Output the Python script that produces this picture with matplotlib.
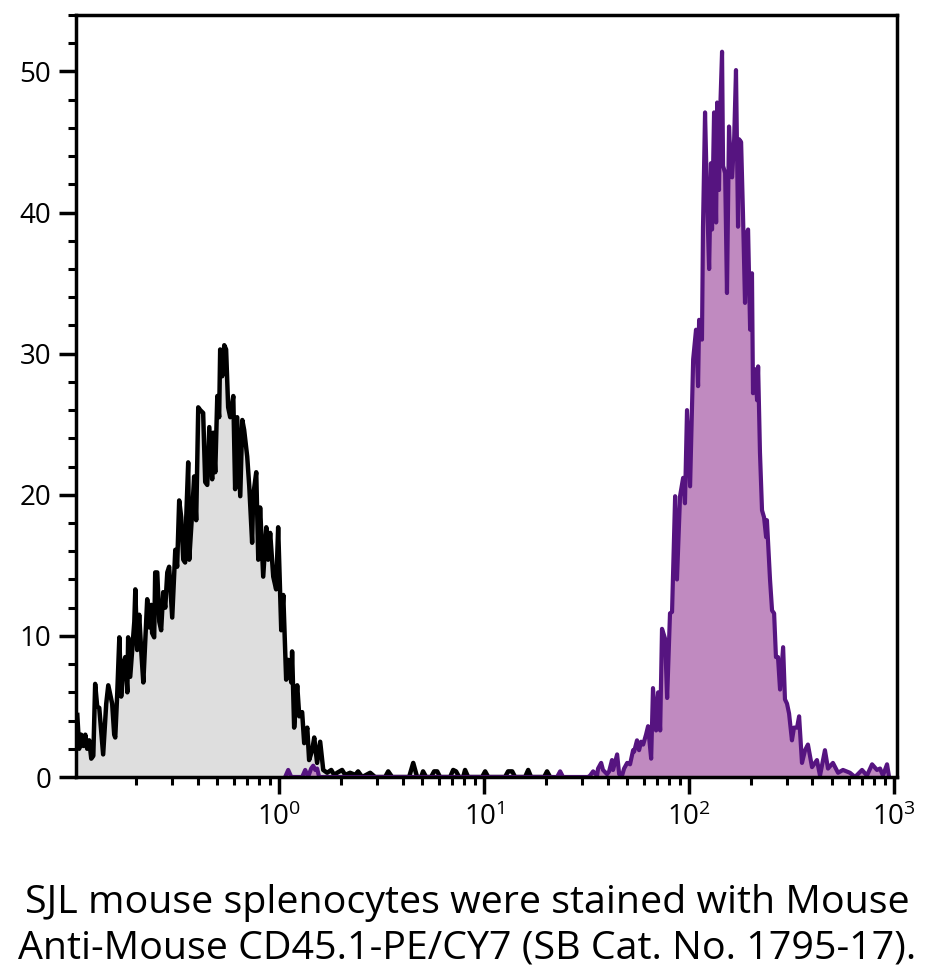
import numpy as np
import matplotlib
matplotlib.use('Agg')
import matplotlib.pyplot as plt
from matplotlib.ticker import MultipleLocator, LogLocator

plt.rcParams['font.family'] = ['Open Sans', 'DejaVu Sans']

# unstained control (black / gray), log10 of intensity and event counts
ctrl_log = np.array([
	-0.985, -0.976, -0.966, -0.956, -0.946, -0.937, -0.927, -0.917, -0.907, -0.898,
	-0.888, -0.878, -0.868, -0.859, -0.844, -0.834, -0.824, -0.815, -0.805, -0.800,
	-0.790, -0.780, -0.771, -0.761, -0.751, -0.741, -0.737, -0.727, -0.717, -0.707,
	-0.702, -0.693, -0.683, -0.673, -0.663, -0.654, -0.644, -0.634, -0.624, -0.620,
	-0.610, -0.605, -0.595, -0.585, -0.576, -0.566, -0.556, -0.546, -0.537, -0.522,
	-0.507, -0.498, -0.488, -0.478, -0.468, -0.459, -0.454, -0.444, -0.439, -0.424,
	-0.415, -0.405, -0.395, -0.385, -0.371, -0.361, -0.351, -0.341, -0.327, -0.322,
	-0.312, -0.302, -0.293, -0.288, -0.278, -0.268, -0.259, -0.249, -0.239, -0.224,
	-0.215, -0.205, -0.190, -0.180, -0.171, -0.156, -0.146, -0.132, -0.127, -0.112,
	-0.102, -0.093, -0.078, -0.063, -0.054, -0.044, -0.029, -0.015, -0.005, 0.010,
	0.020, 0.034, 0.044, 0.059, 0.063, 0.073, 0.088, 0.098, 0.112, 0.122,
	0.137, 0.146, 0.161, 0.171, 0.185, 0.200, 0.215, 0.234, 0.254, 0.268,
	0.283, 0.307, 0.322, 0.346, 0.371, 0.385, 0.405, 0.444, 0.468, 0.517,
	0.532, 0.551, 0.634, 0.654, 0.673, 0.693, 0.702, 0.717, 0.741, 0.756,
	0.771, 0.785, 0.834, 0.849, 0.863, 0.878, 0.898, 0.907, 0.922, 0.990,
	1.005, 1.020, 1.102, 1.117, 1.137, 1.151, 1.200, 1.215, 1.229, 1.293,
	1.307, 1.322])
ctrl_counts = np.array([
	4.4, 2.0, 3.0, 2.2, 3.0, 2.0, 2.6, 1.3, 1.5, 6.6,
	5.0, 4.9, 3.2, 1.6, 5.2, 6.5, 5.8, 5.2, 3.0, 2.8,
	6.0, 9.9, 5.7, 8.0, 8.5, 6.0, 9.9, 7.1, 9.0, 11.0,
	13.3, 9.0, 11.5, 8.9, 6.7, 9.5, 12.6, 10.6, 12.2, 10.2,
	9.9, 14.5, 14.5, 11.0, 10.4, 13.1, 12.0, 14.5, 14.9, 11.3,
	16.1, 14.9, 19.6, 18.4, 15.4, 15.2, 18.2, 22.3, 15.4, 18.9,
	21.3, 18.2, 26.2, 26.0, 25.8, 20.9, 20.7, 24.8, 21.1, 24.4,
	21.6, 27.0, 25.5, 30.3, 28.4, 30.6, 30.3, 26.2, 25.5, 27.0,
	20.4, 25.5, 19.9, 25.3, 24.6, 22.7, 20.6, 16.6, 19.9, 21.6,
	15.4, 19.1, 14.2, 17.7, 15.4, 17.3, 14.2, 13.3, 17.7, 10.4,
	12.9, 6.9, 8.3, 6.7, 8.9, 3.5, 6.5, 4.3, 4.6, 2.4,
	3.5, 1.2, 1.9, 2.8, 1.0, 2.5, 0.5, 0.3, 0.5, 0.15,
	0.3, 0.5, 0.15, 0.3, 0.15, 0.4, 0.0, 0.3, 0.0, 0.0,
	0.4, 0.0, 0.0, 1.0, 0.0, 0.0, 0.4, 0.0, 0.0, 0.4,
	0.4, 0.0, 0.0, 0.5, 0.4, 0.0, 0.0, 0.5, 0.0, 0.0,
	0.4, 0.0, 0.0, 0.4, 0.4, 0.0, 0.0, 0.5, 0.0, 0.0,
	0.4, 0.0])

# CD45.1-PE/CY7 stained (purple)
stain_log = np.array([
	0.029, 0.044, 0.059, 0.112, 0.127, 0.141, 0.156, 0.166, 0.176, 0.185,
	0.195, 1.356, 1.371, 1.385, 1.507, 1.517, 1.532, 1.551, 1.556, 1.571,
	1.580, 1.600, 1.610, 1.624, 1.629, 1.649, 1.659, 1.673, 1.683, 1.698,
	1.712, 1.727, 1.732, 1.746, 1.756, 1.766, 1.776, 1.790, 1.800, 1.815,
	1.824, 1.839, 1.849, 1.859, 1.868, 1.883, 1.893, 1.907, 1.917, 1.932,
	1.941, 1.956, 1.971, 1.980, 1.990, 2.005, 2.020, 2.034, 2.044, 2.049,
	2.063, 2.068, 2.078, 2.088, 2.098, 2.107, 2.112, 2.122, 2.132, 2.137,
	2.146, 2.151, 2.161, 2.166, 2.176, 2.185, 2.195, 2.205, 2.210, 2.220,
	2.229, 2.239, 2.244, 2.254, 2.263, 2.273, 2.283, 2.288, 2.298, 2.307,
	2.312, 2.322, 2.332, 2.337, 2.346, 2.356, 2.366, 2.376, 2.380, 2.395,
	2.405, 2.415, 2.424, 2.434, 2.444, 2.459, 2.468, 2.478, 2.488, 2.502,
	2.512, 2.527, 2.537, 2.551, 2.566, 2.580, 2.600, 2.624, 2.639, 2.663,
	2.678, 2.702, 2.727, 2.751, 2.785, 2.810, 2.844, 2.868, 2.893, 2.917,
	2.932, 2.946, 2.966, 2.976])
stain_counts = np.array([
	0.0, 0.5, 0.0, 0.0, 0.5, 0.0, 0.6, 0.8, 0.5, 0.6,
	0.0, 0.0, 0.4, 0.0, 0.0, 0.1, 0.4, 0.1, 0.6, 1.0,
	0.5, 0.2, 0.4, 1.2, 0.5, 1.6, 0.2, 0.1, 0.6, 1.0,
	0.9, 1.9, 1.8, 2.6, 1.9, 2.5, 2.3, 3.0, 3.6, 1.3,
	6.3, 3.3, 6.0, 3.3, 10.5, 9.8, 5.6, 11.6, 11.7, 19.9,
	14.0, 19.9, 21.2, 19.4, 26.0, 20.6, 29.6, 31.7, 27.7, 32.4,
	31.0, 39.0, 47.1, 40.9, 36.0, 43.5, 38.8, 47.1, 39.3, 47.8,
	41.6, 46.8, 51.4, 43.3, 42.8, 34.3, 46.1, 42.8, 42.5, 45.2,
	50.1, 39.0, 45.2, 45.0, 40.0, 33.6, 38.6, 38.8, 31.7, 35.7,
	27.2, 28.9, 26.7, 29.1, 23.0, 18.9, 18.4, 17.0, 18.2, 14.0,
	11.8, 11.6, 8.5, 8.5, 6.2, 9.2, 5.5, 5.2, 4.5, 2.6,
	3.5, 3.5, 4.3, 1.0, 1.9, 2.3, 0.7, 1.2, 0.1, 1.9,
	0.6, 1.0, 0.3, 0.5, 0.3, 0.0, 0.5, 0.1, 0.9, 0.5,
	0.6, 0.1, 0.9, 0.0])

y_ticks = [0, 10, 20, 30, 40, 50]
caption = ['SJL mouse splenocytes were stained with Mouse',
	'Anti-Mouse CD45.1-PE/CY7 (SB Cat. No. 1795-17).']

fig = plt.figure(figsize=(9.27, 9.77), dpi=100)
ax = fig.add_axes([0.082, 0.2047, 0.8857, 0.7799])

ctrl_x = 10 ** ctrl_log
stain_x = 10 ** stain_log
ax.fill_between(ctrl_x, 0, ctrl_counts, color='#dedede', lw=0, zorder=1)
ax.plot(ctrl_x, ctrl_counts, color='black', lw=3.2, zorder=2)
ax.fill_between(stain_x, 0, stain_counts, color='#c08ac0', lw=0, zorder=1.5)
ax.plot(stain_x, stain_counts, color='#561480', lw=3.0, zorder=2.2)

ax.set_xscale('log')
ax.set_xlim(0.102, 1035)
ax.set_ylim(0, 54)
ax.set_yticks(y_ticks)
ax.yaxis.set_minor_locator(MultipleLocator(2))
ax.xaxis.set_major_locator(LogLocator(base=10))
ax.xaxis.set_minor_locator(LogLocator(base=10, subs=np.arange(2, 10)))

for s in ax.spines.values():
	s.set_linewidth(2.5)
ax.tick_params(which='major', length=12, width=2.5, labelsize=20, pad=6, direction='out')
ax.tick_params(which='minor', length=5.5, width=2.2, direction='out')
ax.tick_params(axis='x', which='major', pad=7)

fig.text(0.504, 0.0655, caption[0], ha='center', va='baseline', fontsize=28.4)
fig.text(0.504, 0.0194, caption[1], ha='center', va='baseline', fontsize=28.4)

plt.savefig('out.png', dpi=100)
